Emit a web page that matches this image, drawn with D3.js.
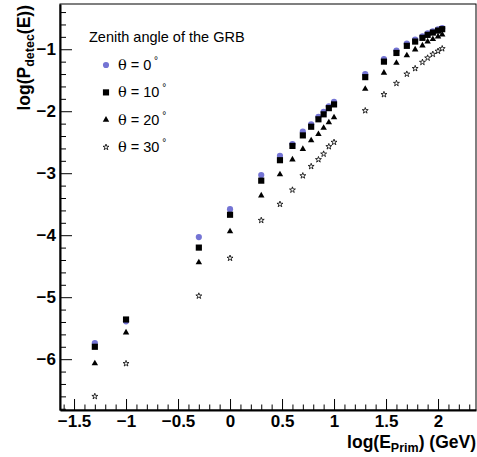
<!DOCTYPE html>
<html>
<head>
<meta charset="utf-8">
<script src="https://cdn.jsdelivr.net/npm/d3@7"></script>
<style>
  body { margin: 0; background: #fff; }
  svg { display: block; font-family: "Liberation Sans", Arial, sans-serif; }
</style>
</head>
<body>
<svg id="chart" width="477" height="457"></svg>
<script>
// log10 of primary energy (GeV)
const logE = [-1.3, -1, -0.3, 0, 0.3, 0.48, 0.6, 0.7, 0.78, 0.85, 0.9, 0.95, 1.0,
  1.3, 1.48, 1.6, 1.7, 1.78, 1.85, 1.9, 1.95, 2.0, 2.04];

// log of detection probability for each zenith angle
const theta0 = [-5.74, -5.39, -4.03, -3.58, -3.03, -2.72, -2.53, -2.33, -2.21, -2.09, -2.01, -1.92, -1.85,
  -1.40, -1.16, -1.02, -0.91, -0.845, -0.79, -0.745, -0.71, -0.68, -0.66];
const theta10 = [-5.80, -5.36, -4.20, -3.67, -3.12, -2.79, -2.56, -2.39, -2.25, -2.13, -2.05, -1.95, -1.89,
  -1.45, -1.20, -1.06, -0.945, -0.876, -0.816, -0.768, -0.731, -0.699, -0.676];
const theta20 = [-6.07, -5.57, -4.44, -3.94, -3.36, -3.02, -2.78, -2.61, -2.47, -2.37, -2.27, -2.18, -2.10,
  -1.64, -1.38, -1.22, -1.10, -1.005, -0.94, -0.876, -0.838, -0.795, -0.763];
const theta30 = [-6.60, -6.07, -4.98, -4.37, -3.76, -3.50, -3.27, -3.04, -2.89, -2.78, -2.69, -2.57, -2.50,
  -1.99, -1.73, -1.55, -1.40, -1.31, -1.21, -1.14, -1.08, -1.03, -0.99];

const xTicks = [-1.5, -1, -0.5, 0, 0.5, 1, 1.5, 2];
const yTicks = [-6, -5, -4, -3, -2, -1];
const legendTitle = "Zenith angle of the GRB";
const angles = ["0", "10", "20", "30"];

const svg = d3.select("#chart");
const plotLeft = 60, plotRight = 476, plotTop = 4, plotBottom = 410;

const x = d3.scaleLinear().domain([-1.635, 2.365]).range([plotLeft, plotRight]);
const y = d3.scaleLinear().domain([-6.82, -0.27]).range([plotBottom, plotTop]);

const fmt = d => (d < 0 ? "\u2212" : "") + Math.abs(d);

// frame
svg.append("rect")
  .attr("x", plotLeft).attr("y", plotTop)
  .attr("width", plotRight - plotLeft).attr("height", plotBottom - plotTop)
  .attr("fill", "none").attr("stroke", "#000").attr("stroke-width", 1);

// minor ticks
const xMinor = d3.range(-16, 24).map(i => i / 10).filter(v => !xTicks.includes(v));
svg.append("g")
  .attr("transform", `translate(0,${plotBottom})`)
  .call(d3.axisBottom(x).tickValues(xMinor).tickSize(-5.5).tickFormat(""))
  .call(g => g.select(".domain").remove());

const yMinor = d3.range(-34, -1).map(i => i / 5).filter(v => !yTicks.includes(v));
svg.append("g")
  .attr("transform", `translate(${plotLeft},0)`)
  .call(d3.axisLeft(y).tickValues(yMinor).tickSize(-6).tickFormat(""))
  .call(g => g.select(".domain").remove());

// major ticks + labels
const xAxis = svg.append("g")
  .attr("transform", `translate(0,${plotBottom})`)
  .call(d3.axisBottom(x).tickValues(xTicks).tickSize(-11).tickSizeOuter(0).tickPadding(5).tickFormat(fmt));
xAxis.select(".domain").attr("stroke-width", 2);
xAxis.selectAll("text").attr("font-size", 17).attr("font-weight", "bold")
  .attr("font-family", "Liberation Sans, Arial, sans-serif");

const yAxis = svg.append("g")
  .attr("transform", `translate(${plotLeft},0)`)
  .call(d3.axisLeft(y).tickValues(yTicks).tickSize(-12).tickSizeOuter(0).tickPadding(4).tickFormat(fmt));
yAxis.select(".domain").attr("stroke-width", 2);
yAxis.selectAll("text").attr("font-size", 17).attr("font-weight", "bold")
  .attr("font-family", "Liberation Sans, Arial, sans-serif");

// axis titles
const xt = svg.append("text")
  .attr("x", plotRight).attr("y", 448)
  .attr("text-anchor", "end").attr("font-size", 17.5).attr("font-weight", "bold");
xt.append("tspan").text("log(E");
xt.append("tspan").attr("dy", 4).attr("font-size", 12.5).text("Prim");
xt.append("tspan").attr("dy", -4).text(") (GeV)");

const yt = svg.append("text")
  .attr("transform", "translate(30,5) rotate(-90)")
  .attr("text-anchor", "end").attr("font-size", 17.5).attr("font-weight", "bold");
yt.append("tspan").text("log(P");
yt.append("tspan").attr("dy", 4).attr("font-size", 12.5).text("detec");
yt.append("tspan").attr("dy", -4).text("(E))");

// series
const series = [
  { vals: theta0, type: d3.symbolCircle, size: 30, fill: "#7474d4", stroke: "none" },
  { vals: theta10, type: d3.symbolSquare, size: 38, fill: "#000", stroke: "none" },
  { vals: theta20, type: d3.symbolTriangle, size: 18, fill: "#000", stroke: "none" },
  { vals: theta30, type: d3.symbolStar, size: 11, fill: "#fff", stroke: "#000" }
];

series.forEach(s => {
  svg.append("g").selectAll("path")
    .data(logE.map((e, i) => [e, s.vals[i]]))
    .enter()
    .append("path")
    .attr("transform", d => `translate(${x(d[0])},${y(d[1])})`)
    .attr("d", d3.symbol().type(s.type).size(s.size))
    .attr("fill", s.fill)
    .attr("stroke", s.stroke)
    .attr("stroke-width", 0.8);
});

// legend
svg.append("text")
  .attr("x", 89).attr("y", 42)
  .attr("font-size", 14.5)
  .text(legendTitle);

series.forEach((s, i) => {
  const ly = 65 + i * 27.4;
  svg.append("path")
    .attr("transform", `translate(106,${ly})`)
    .attr("d", d3.symbol().type(s.type).size(s.size))
    .attr("fill", s.fill)
    .attr("stroke", s.stroke)
    .attr("stroke-width", 0.8);
  const t = svg.append("text")
    .attr("x", 118).attr("y", ly + 5)
    .attr("font-size", 14.5);
  t.append("tspan").attr("font-family", "DejaVu Serif, serif").text("\u03b8");
  t.append("tspan").text(" = " + angles[i]);
  t.append("tspan").attr("dy", -6).attr("font-size", 10).text(" \u00b0");
});
</script>
</body>
</html>
